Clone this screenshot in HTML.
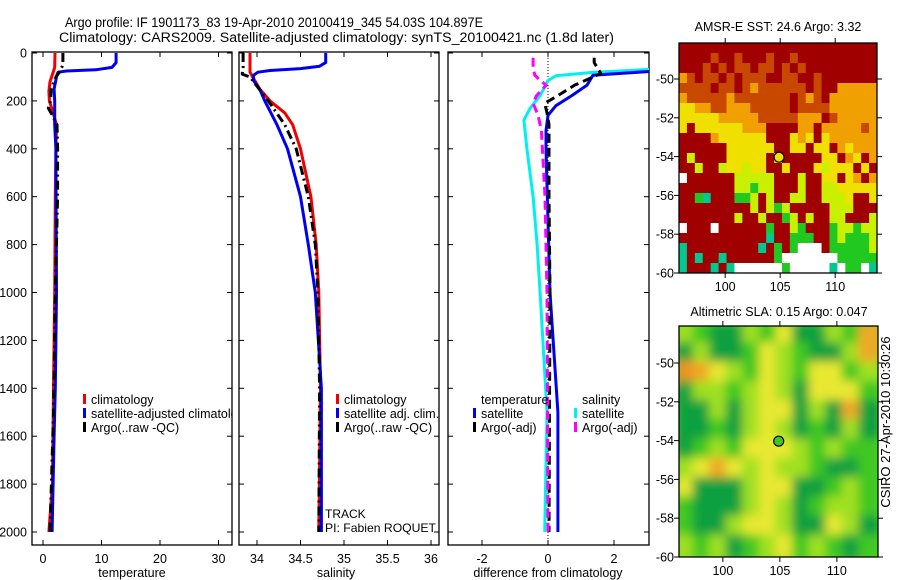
<!DOCTYPE html>
<html><head><meta charset="utf-8"><style>
html,body{margin:0;padding:0;background:#fff;}
svg{display:block;font-family:"Liberation Sans",sans-serif;}
</style></head><body>
<svg id="fig" width="900" height="580" viewBox="0 0 900 580" xmlns="http://www.w3.org/2000/svg">
<defs>
<clipPath id="c1"><rect x="32" y="52" width="200" height="493"/></clipPath>
<clipPath id="c2"><rect x="239" y="52" width="200" height="493"/></clipPath>
<clipPath id="c3"><rect x="448" y="52" width="201" height="493"/></clipPath>
<clipPath id="cm1"><rect x="679" y="43" width="198" height="230"/></clipPath>
<clipPath id="cm2"><rect x="679" y="326" width="199" height="231"/></clipPath>
<filter id="blur" x="-5%" y="-5%" width="110%" height="110%"><feGaussianBlur stdDeviation="5"/></filter>
</defs>
<text x="65" y="27" font-size="13.5" textLength="418" lengthAdjust="spacingAndGlyphs">Argo profile: IF 1901173_83 19-Apr-2010 20100419_345 54.03S 104.897E</text>
<text x="59" y="42" font-size="13.5" textLength="555" lengthAdjust="spacingAndGlyphs">Climatology: CARS2009. Satellite-adjusted climatology: synTS_20100421.nc (1.8d later)</text>
</svg>
<script>
// ---- data ----
const depthTick = [0,200,400,600,800,1000,1200,1400,1600,1800,2000];
const tempTicks = [0,10,20,30];
const salTicks = [34,34.5,35,35.5,36];
const salTickLabels = ["34","34.5","35","35.5","36"];
const diffTicks = [-2,0,2];
const latTicks = [-50,-52,-54,-56,-58,-60];
const lonTicks = [100,105,110];

const tClimD = [0,60,90,120,160,200,240,300,400,600,1000,1400,1800,2000];
const tClimV = [2.05,2.0,1.6,1.2,1.0,1.1,1.6,2.3,2.2,2.1,2.0,1.8,1.6,1.0];
const tSatD = [0,40,60,70,75,80,90,100,150,200,300,400,1000,1400,1600,2000];
const tSatV = [12.5,12.5,11.8,9,4,2.6,2.4,2.3,1.9,2.0,2.0,2.2,2.3,2.1,1.9,1.55];
const tArgoD = [0,50,80,100,150,200,230,260,300,400,600,1000,1500,2000];
const tArgoV = [3.4,3.4,2.8,2.2,1.4,1.3,0.9,1.6,2.4,2.5,2.5,2.1,1.8,1.2];

const sClimD = [0,80,100,150,200,250,300,400,600,800,1000,1400,2000];
const sClimV = [33.92,33.92,33.95,34.03,34.15,34.32,34.41,34.5,34.62,34.68,34.71,34.73,34.71];
const sSatD = [0,40,55,65,73,80,93,115,150,200,300,400,600,800,1000,1400,2000];
const sSatV = [34.79,34.79,34.72,34.5,34.15,34.01,33.96,33.96,34.03,34.09,34.23,34.35,34.5,34.59,34.67,34.74,34.74];
const sArgoD = [0,60,88,100,200,300,400,600,800,1000,1400,2000];
const sArgoV = [33.84,33.84,33.83,33.92,34.13,34.32,34.45,34.59,34.67,34.70,34.72,34.71];

const dTSatD = [0,70,77,93,135,178,220,260,325,400,1000,1500,2000];
const dTSatV = [10.5,4,3.1,1.36,1.18,0.72,0.24,0.0,-0.06,-0.06,0.06,0.3,0.3];
const dTArgoD = [20,40,85,135,178,210,250,300,600,1000,2000];
const dTArgoV = [1.4,1.4,1.6,0.8,0.3,-0.1,-0.03,0.03,0.03,0.06,0.03];
const dSSatD = [0,60,68,81,95,115,178,232,280,400,600,800,1000,1500,2000];
const dSSatV = [4.0,3.6,3.1,1.36,0.24,0.0,-0.24,-0.55,-0.73,-0.64,-0.45,-0.33,-0.24,-0.03,-0.1];
const dSArgoD = [20,60,93,135,178,210,260,325,600,1000,2000];
const dSArgoV = [-0.45,-0.45,-0.4,-0.06,-0.35,-0.45,-0.3,-0.2,-0.09,-0.03,0.0];

// SST grid rows (lat -48.15 .. -60), lon 95.8 .. 113.8
const sstRows = [
"RRRRRRRRRRRRRRRRRRRRRRRRR",
"RRRRrRRrRRRrRRrRRRRRRRRRR",
"RRRrRrRrrRrrRrRrRRRRRRRRR",
"orRrrRrRrrrRRrrRRrRRRRRRR",
"rrrrRrrRrorrrrrrRrRRooooo",
"orrrrrorrrrrrrRrorRoooooo",
"yyoorrooorrrrrRrrrroooooo",
"yyyyyooooorrrrroooRrooooo",
"yRyyyyyyoooRRRRooRoooooro",
"RRRRoyyyyyyRRRyoyRyoooooo",
"RRRRRRyyyyyyRRyyRyyRoyooo",
"RlRRRRyyyyyRyRRRRRyyRoyRo",
"RRlRRlyylyyRRyRRRylyyyRyR",
"wRRRRRRlllllRRRlRRyyRyoRo",
"RRRRRRRllgllRRRlRRllyyyyy",
"RRgtRRRgglRlRRllRRlllyRRy",
"RRRRRRRRRlRlglRRRRRlllRRR",
"RRRRRRRlRRlRRglRlRRllRRRl",
"wRRRwRRRRRRgRRlgRRRgllgll",
"RRRRRRRRRRRtRRgggRRglgggl",
"tRRRRRRRRRtRgRgwwwRgggggl",
"tRtRRtRRRRRRgwwwwwwwggggg",
"tRRRtRtwwwwwwgwwwwwtwggwt"];
const slaRows = [
"lgGGlgyGGlgo",
"GlGGgylgGGlo",
"Ooylgylgyygl",
"GllglylGyyyg",
"GGlGlyyGlGoG",
"GGgGlylGgGlG",
"Gglgyyylglgg",
"lyoylyllgGGg",
"yGGGlyyGGglg",
"gGGGlylGgllg",
"gGGlyylGGylG",
"lglGglyglgGg"];
const argoLon = 104.897, argoLat = -54.03;

// ---- helpers ----
const NS = "http://www.w3.org/2000/svg";
const svg = document.getElementById('fig');
function mk(tag, attrs, parent){const e=document.createElementNS(NS,tag);for(const k in attrs)e.setAttribute(k,attrs[k]);(parent||svg).appendChild(e);return e;}
function txt(s, x, y, attrs, parent){const e=mk('text',Object.assign({x:x,y:y,'font-size':12.5},attrs||{}),parent);e.textContent=s;return e;}

const Y0 = 52, Y1 = 545;
const yD = d => 53 + d*0.2395;
const xT = t => 43 + t*5.85;
const xS = s => 257 + (s-34)*87;
const xF = v => 548 + v*33;

function panel(x0, x1, name){
  const r = mk('rect',{x:x0,y:Y0,width:x1-x0,height:Y1-Y0,fill:'none',stroke:'#000','stroke-width':1.3});
  
  
  depthTick.forEach(d=>{
    const t1=mk('line',{x1:x0,x2:x0+5,y1:yD(d),y2:yD(d),stroke:'#000'});
    
    
    const t2=mk('line',{x1:x1-5,x2:x1,y1:yD(d),y2:yD(d),stroke:'#000'});
    
    
  });
}
function xticks(vals, labels, fx, x0, x1, name){
  vals.forEach((v,i)=>{
    const x=fx(v);
    const a=mk('line',{x1:x,x2:x,y1:Y0,y2:Y0+5,stroke:'#000'});
    
    
    const b=mk('line',{x1:x,x2:x,y1:Y1-5,y2:Y1,stroke:'#000'});
    
    
    const t=txt(labels[i], x, 563, {'text-anchor':'middle'});
    
    
  });
}
function line(D, V, fx, color, clip, name, dash, w){
  const pts = D.map((d,i)=>fx(V[i]).toFixed(1)+','+yD(d).toFixed(1)).join(' ');
  const a={points:pts,fill:'none',stroke:color,'stroke-width':w||3,'clip-path':'url(#'+clip+')','stroke-linejoin':'round'};
  if(dash) a['stroke-dasharray']=dash;
  const p=mk('polyline',a);
  
  
}

// ---- panel 1: temperature ----
panel(32,232,'temperature-panel');
xticks(tempTicks, tempTicks.map(String), xT, 32, 232, 'temperature');
depthTick.forEach(d=>{
  const t=txt(String(d), 27, yD(d)+4.5, {'text-anchor':'end'});
  
  
});
line(tClimD,tClimV,xT,'#f00000','c1','temperature-climatology-line');
line(tSatD,tSatV,xT,'#0000f0','c1','temperature-satellite-line');
line(tArgoD,tArgoV,xT,'#000','c1','temperature-argo-line','9,4,2,4');
let t=txt('temperature',132,577,{'text-anchor':'middle'});
 

// ---- panel 2: salinity ----
panel(239,439,'salinity-panel');
xticks(salTicks, salTickLabels, xS, 239, 439, 'salinity');
line(sClimD,sClimV,xS,'#f00000','c2','salinity-climatology-line');
line(sSatD,sSatV,xS,'#0000f0','c2','salinity-satellite-line');
line(sArgoD,sArgoV,xS,'#000','c2','salinity-argo-line','9,4,2,4');
t=txt('salinity',336,577,{'text-anchor':'middle'});
 
t=txt('TRACK',325,518,{'font-size':12});  
t=txt('PI: Fabien ROQUET',325,532,{'font-size':12,textLength:111,lengthAdjust:'spacingAndGlyphs'});  

// ---- panel 3: difference ----
panel(448,649,'difference-panel');
xticks(diffTicks, diffTicks.map(String), xF, 448, 649, 'difference');
let zl=mk('line',{x1:xF(0),x2:xF(0),y1:Y0,y2:Y1,stroke:'#000','stroke-dasharray':'1,2'});
 
line(dSSatD,dSSatV,xF,'#00f0f0','c3','salinity-satellite-diff-line');
line(dTSatD,dTSatV,xF,'#0000f0','c3','temperature-satellite-diff-line');
line(dTArgoD,dTArgoV,xF,'#000','c3','temperature-argo-diff-line','9,5');
line(dSArgoD,dSArgoV,xF,'#ff00ff','c3','salinity-argo-diff-line','9,5');
t=txt('difference from climatology',548,577,{'text-anchor':'middle'});
 

// ---- legends ----
function legendItem(x, y, color, label, name, clip){
  const r=mk('rect',{x:x,y:y-10,width:3,height:10,fill:color});
  
  
  const a={'font-size':12.5};
  if(clip) a['clip-path']='url(#'+clip+')';
  const tt=txt(label,x+8,y,a);
  
  
}
legendItem(83,404,'#f00000','climatology','legend-temp-climatology');
legendItem(83,418,'#0000f0','satellite-adjusted climatology','legend-temp-satellite','c1');
legendItem(83,432,'#000','Argo(..raw -QC)','legend-temp-argo');
legendItem(336,404,'#f00000','climatology','legend-sal-climatology');
legendItem(336,418,'#0000f0','satellite adj. clim.','legend-sal-satellite');
legendItem(336,432,'#000','Argo(..raw -QC)','legend-sal-argo');
t=txt('temperature',481,404);  
legendItem(473,418,'#0000f0','satellite','legend-diff-temp-satellite');
legendItem(473,432,'#000','Argo(-adj)','legend-diff-temp-argo');
t=txt('salinity',582,404);  
legendItem(574,418,'#00f0f0','satellite','legend-diff-sal-satellite');
legendItem(574,432,'#ff00ff','Argo(-adj)','legend-diff-sal-argo');

// ---- maps ----
const sstColors = {R:'#a00000',r:'#c84800',o:'#f0a000',y:'#f0e000',l:'#c8f000',g:'#20c820',t:'#00c890',w:'#ffffff'};
const slaColors = {G:'#10a040',g:'#40c820',l:'#a0e020',y:'#e8e830',o:'#f0a828',O:'#f09020'};
function mapAxes(x0,y0,x1,y1,lonA,lonB,latA,latB,name){
  const fx = lo => lonA + (lo-95.8)*lonB;
  const fy = la => latA - (la+50)*latB;
  latTicks.forEach(la=>{
    const y=fy(la);
    const a=mk('line',{x1:x0,x2:x0-5,y1:y,y2:y,stroke:'#000'});
     
    const b=mk('line',{x1:x1,x2:x1+5,y1:y,y2:y,stroke:'#000'});
     
    const l=txt(String(la), x0-5, y+4.5, {'text-anchor':'end'});
     
  });
  lonTicks.forEach(lo=>{
    const x=fx(lo);
    const a=mk('line',{x1:x,x2:x,y1:y0,y2:y0-5,stroke:'#000'});
     
    const b=mk('line',{x1:x,x2:x,y1:y1,y2:y1+5,stroke:'#000'});
     
    const l=txt(String(lo), x, y1+18, {'text-anchor':'middle'});
     
  });
  const r=mk('rect',{x:x0,y:y0,width:x1-x0,height:y1-y0,fill:'none',stroke:'#000','stroke-width':1.3});
   
  return [fx,fy];
}
// SST
(function(){
  const x0=679,y0=43,x1=877,y1=273;
  const g=mk('g',{'clip-path':'url(#cm1)'});
   
  const nr=sstRows.length, nc=sstRows[0].length, cw=(x1-x0)/nc, ch=(y1-y0)/nr;
  sstRows.forEach((row,i)=>{[...row].forEach((c,j)=>{
    const cell=mk('rect',{x:(x0+j*cw).toFixed(2),y:(y0+i*ch).toFixed(2),width:(cw+0.4).toFixed(2),height:(ch+0.4).toFixed(2),fill:sstColors[c]},g);
     
  });});
  const [fx,fy]=mapAxes(x0,y0,x1,y1,679,11,79,19.4,'sst-map');
  const c=mk('circle',{cx:fx(argoLon),cy:fy(argoLat),r:5,fill:'#f0e000',stroke:'#000','stroke-width':1.2});
   
  const tt=txt('AMSR-E SST: 24.6 Argo: 3.32',778,31,{'text-anchor':'middle'});
   
})();
// SLA
(function(){
  const x0=679,y0=326,x1=878,y1=557;
  const bg=mk('rect',{x:x0,y:y0,width:x1-x0,height:y1-y0,fill:'#70d828'});
   
  const clipG=mk('g',{'clip-path':'url(#cm2)'});
  const g=mk('g',{filter:'url(#blur)'},clipG);
   
  const nr=slaRows.length, nc=slaRows[0].length, cw=(x1-x0)/nc, ch=(y1-y0)/nr;
  slaRows.forEach((row,i)=>{[...row].forEach((c,j)=>{
    const cell=mk('rect',{x:(x0+j*cw-3).toFixed(2),y:(y0+i*ch-3).toFixed(2),width:(cw+6).toFixed(2),height:(ch+6).toFixed(2),fill:slaColors[c]},g);
     
  });});
  const [fx,fy]=mapAxes(x0,y0,x1,y1,675,11.4,363,19.4,'sla-map');
  const c=mk('circle',{cx:fx(argoLon),cy:fy(argoLat),r:5,fill:'#40c820',stroke:'#000','stroke-width':1.2});
   
  const tt=txt('Altimetric SLA: 0.15 Argo: 0.047',779,316,{'text-anchor':'middle'});
   
})();
t=txt('CSIRO 27-Apr-2010 10:30:26',0,0,{'text-anchor':'middle','transform':'translate(890,422) rotate(-90)','font-size':13});
 
</script>
</body></html>
